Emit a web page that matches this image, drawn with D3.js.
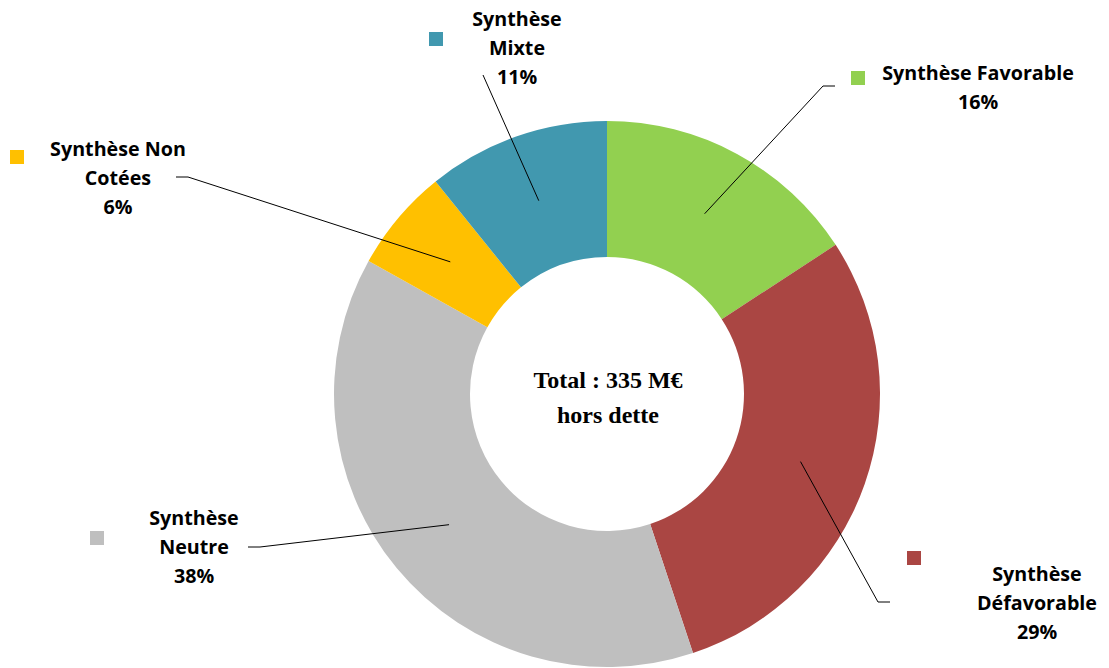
<!DOCTYPE html>
<html>
<head>
<meta charset="utf-8">
<script src="https://cdn.jsdelivr.net/npm/d3@7"></script>
<style>
  body { margin: 0; background: #ffffff; }
</style>
</head>
<body>
<div id="chart"></div>
<script>
// data
const categories = ["Synthèse Favorable", "Synthèse Défavorable", "Synthèse Neutre", "Synthèse Non Cotées", "Synthèse Mixte"];
const shares = [15.8, 29.1, 38.2, 6.1, 10.8];
const colors = ["#92D050", "#AA4643", "#BFBFBF", "#FFC000", "#4198AF"];
const labelLines = [
  ["Synthèse Favorable"],
  ["Synthèse", "Défavorable"],
  ["Synthèse", "Neutre"],
  ["Synthèse Non", "Cotées"],
  ["Synthèse", "Mixte"]
];
const centerText = ["Total : 335 M€", "hors dette"];

// layout of the labels (text centre, first baseline, legend square, leader elbow)
const labelLayout = [
  { tx: 978, ty: 80,  sq: [851, 71],  elbow: [[835, 86], [823, 86]] },
  { tx: 1037, ty: 581, sq: [907, 551], elbow: [[890, 602], [878, 602]] },
  { tx: 194, ty: 525, sq: [90, 531],  elbow: [[248, 547], [260, 547]] },
  { tx: 118, ty: 156, sq: [10, 150],  elbow: [[176, 177], [188, 177]] },
  { tx: 517, ty: 26,  sq: [429, 32],  elbow: [[483, 75]] }
];

const width = 1109;
const height = 668;
const cx = 607, cy = 394;
const outerR = 273, innerR = 137;
const lineH = 29;

const svg = d3.select("#chart")
  .append("svg")
  .attr("width", width)
  .attr("height", height)
  .style("background", "#ffffff");

const data = categories.map((c, i) => ({ name: c, value: shares[i], i }));

const pie = d3.pie()
  .value(d => d.value)
  .sort(null);

const arc = d3.arc()
  .innerRadius(innerR)
  .outerRadius(outerR);

const arcs = pie(data);

const g = svg.append("g")
  .attr("transform", `translate(${cx},${cy})`);

g.selectAll("path.slice")
  .data(arcs)
  .join("path")
  .attr("class", "slice")
  .attr("d", arc)
  .attr("fill", d => colors[d.data.i]);

// leader lines
arcs.forEach(a => {
  const L = labelLayout[a.data.i];
  const c = arc.centroid(a);
  const pts = L.elbow.concat([[cx + c[0], cy + c[1]]]);
  svg.append("path")
    .attr("d", d3.line()(pts))
    .attr("fill", "none")
    .attr("stroke", "#000000")
    .attr("stroke-width", 1);
});

// labels
arcs.forEach(a => {
  const i = a.data.i;
  const L = labelLayout[i];
  svg.append("rect")
    .attr("x", L.sq[0])
    .attr("y", L.sq[1])
    .attr("width", 14)
    .attr("height", 14)
    .attr("fill", colors[i]);

  const lines = labelLines[i].concat([Math.round(a.data.value) + "%"]);
  const t = svg.append("text")
    .attr("text-anchor", "middle")
    .style("font-family", "'Open Sans', Lato, sans-serif")
    .style("font-weight", "bold")
    .style("font-size", "19.7px")
    .attr("fill", "#000000");
  lines.forEach((s, k) => {
    t.append("tspan")
      .attr("x", L.tx)
      .attr("y", L.ty + k * lineH)
      .text(s);
  });
});

// centre text
centerText.forEach((s, k) => {
  svg.append("text")
    .attr("x", cx + 1)
    .attr("y", 388 + k * 35)
    .attr("text-anchor", "middle")
    .style("font-family", "'Liberation Serif', 'Times New Roman', serif")
    .style("font-weight", "bold")
    .style("font-size", "24px")
    .text(s);
});
</script>
</body>
</html>
